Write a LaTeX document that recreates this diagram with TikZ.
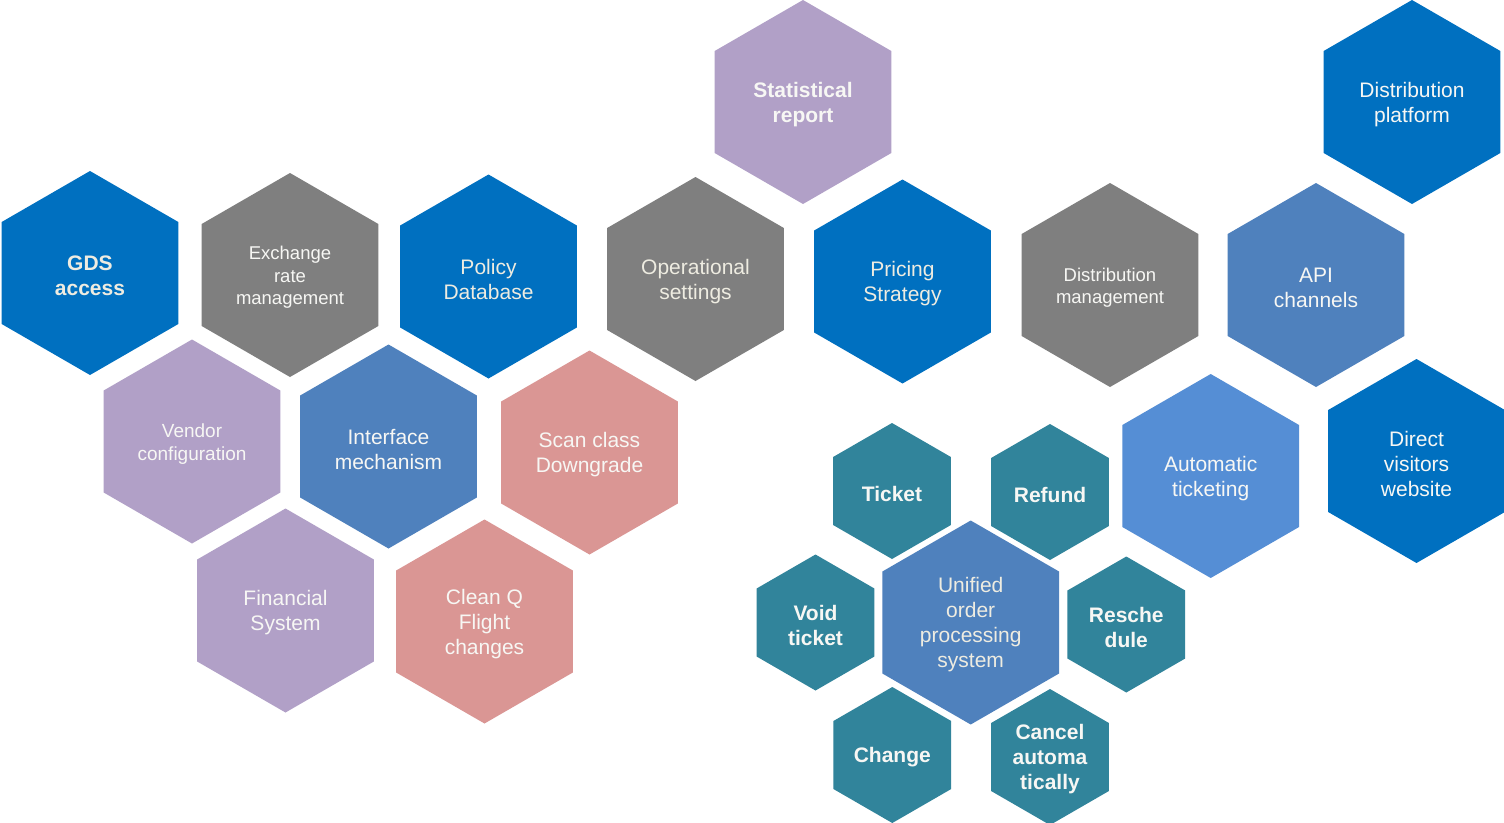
\documentclass[tikz,border=0pt]{standalone}
\usepackage{fontspec}
\setmainfont{Liberation Sans}
\definecolor{cblue}{HTML}{0070C0}
\definecolor{cgray}{HTML}{7F7F7F}
\definecolor{cpurple}{HTML}{B1A0C7}
\definecolor{csteel}{HTML}{4F81BD}
\definecolor{cpink}{HTML}{DA9694}
\definecolor{clight}{HTML}{558ED5}
\definecolor{cteal}{HTML}{31849B}
\definecolor{txtw}{HTML}{F7F7F4}
\definecolor{txtc}{HTML}{EEECE1}
\tikzset{
  lbl/.style={align=center, text=txtw, inner sep=0pt, yshift=-2.5pt, font=\fontsize{21}{25}\selectfont},
  lblb/.style={lbl, font=\fontsize{21}{25}\selectfont\bfseries},
  lblm/.style={lbl, font=\fontsize{19}{23}\selectfont},
  lbls/.style={lbl, font=\fontsize{18.5}{22.5}\selectfont},
  cream/.style={text=txtc},
}
% name, x, y, radius, fill colour, label style, text
\newcommand\hexcell[7]{%
  \fill[#5] (#2,#3) +(90:#4) -- +(150:#4) -- +(210:#4) -- +(270:#4) -- +(330:#4) -- +(30:#4) -- cycle;
  \node[#6] (#1) at (#2,#3) {#7};
}
\begin{document}
\begin{tikzpicture}[x=1pt,y=-1pt]
\useasboundingbox[fill=white] (0,0) rectangle (1504,822);
% large cells
\hexcell{stat}{803}{102}{102}{cpurple}{lblb}{Statistical\\report}
\hexcell{distp}{1412}{102}{102}{cblue}{lbl}{Distribution\\platform}
\hexcell{gds}{90}{273}{102}{cblue}{lblb,cream}{GDS\\access}
\hexcell{exch}{290}{275}{102}{cgray}{lbls}{Exchange\\rate\\management}
\hexcell{policy}{488.5}{276.5}{102}{cblue}{lbl,cream}{Policy\\Database}
\hexcell{oper}{695.5}{279}{102}{cgray}{lbl,cream}{Operational\\settings}
\hexcell{pricing}{902.5}{281.5}{102}{cblue}{lbl,cream}{Pricing\\Strategy}
\hexcell{distm}{1110}{285}{102}{cgray}{lbls}{Distribution\\management}
\hexcell{api}{1316}{285}{102}{csteel}{lbl}{API\\channels}
\hexcell{vendor}{192}{441.5}{102}{cpurple}{lblm}{Vendor\\configuration}
\hexcell{iface}{388.5}{446.5}{102}{csteel}{lbl}{Interface\\mechanism}
\hexcell{scan}{589.5}{452.5}{102}{cpink}{lbl}{Scan class\\Downgrade}
\hexcell{auto}{1210.7}{476}{102}{clight}{lbl}{Automatic\\ticketing}
\hexcell{direct}{1416.5}{461}{102}{cblue}{lbl}{Direct\\visitors\\website}
\hexcell{fin}{285.5}{610.5}{102}{cpurple}{lbl}{Financial\\System}
\hexcell{cleanq}{484.5}{621.5}{102}{cpink}{lbl}{Clean Q\\Flight\\changes}
\hexcell{unified}{970.7}{622.5}{102}{csteel}{lbl,cream}{Unified\\order\\processing\\system}
% small cells
\hexcell{ticket}{892}{491}{68}{cteal}{lblb}{Ticket}
\hexcell{refund}{1050}{492}{68}{cteal}{lblb}{Refund}
\hexcell{void}{815.5}{622.5}{68}{cteal}{lblb}{Void\\ticket}
\hexcell{resch}{1126.3}{624.5}{68}{cteal}{lblb}{Resche\\dule}
\hexcell{change}{892.3}{755}{68}{cteal}{lblb}{Change}
\hexcell{cancel}{1050}{757}{68}{cteal}{lblb}{Cancel\\automa\\tically}
\end{tikzpicture}
\end{document}
